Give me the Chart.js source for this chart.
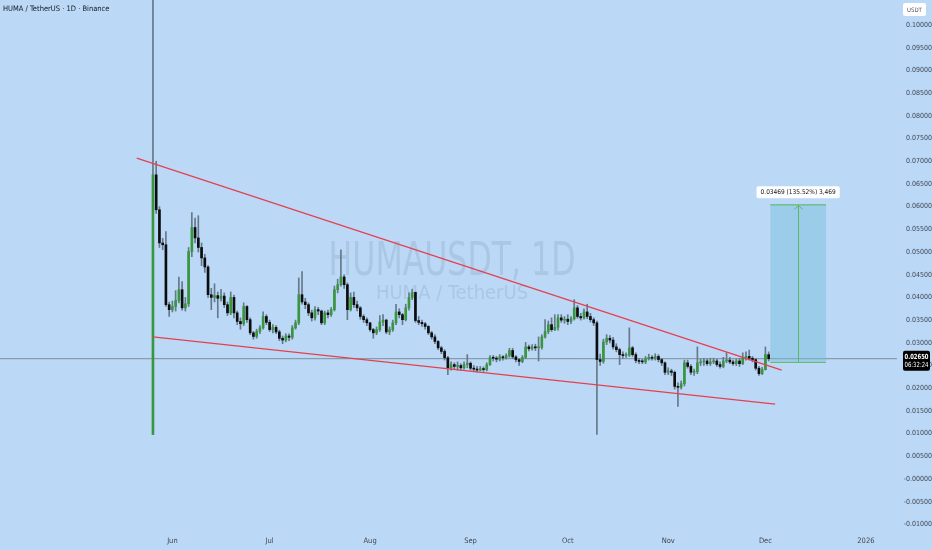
<!DOCTYPE html>
<html>
<head>
<meta charset="utf-8">
<script src="https://cdn.jsdelivr.net/npm/chart.js@4.4.1/dist/chart.umd.min.js"></script>
<style>
  html, body { margin: 0; padding: 0; background: #bbd9f7; }
  #wrap { width: 932px; height: 550px; position: relative; }
</style>
</head>
<body>
<div id="wrap"><canvas id="chart"></canvas></div>
<script>
// HUMA / TetherUS daily candles, day 0 = 26 May
const firstOpen = 0.0098;
const closes = [
  0.0670, 0.0593, 0.0520, 0.0516, 0.0384, 0.0373, 0.0380, 0.0393, 0.0417, 0.0377,
  0.0386, 0.0501, 0.0554, 0.0531, 0.0510, 0.0487, 0.0467, 0.0406, 0.0400, 0.0404,
  0.0398, 0.0403, 0.0384, 0.0366, 0.0400, 0.0366, 0.0347, 0.0342, 0.0380, 0.0351,
  0.0322, 0.0314, 0.0325, 0.0333, 0.0358, 0.0345, 0.0329, 0.0334, 0.0324, 0.0310,
  0.0306, 0.0315, 0.0312, 0.0333, 0.0344, 0.0406, 0.0390, 0.0384, 0.0366, 0.0355,
  0.0373, 0.0370, 0.0344, 0.0366, 0.0362, 0.0373, 0.0417, 0.0428, 0.0445, 0.0428,
  0.0373, 0.0400, 0.0384, 0.0377, 0.0358, 0.0351, 0.0344, 0.0329, 0.0322, 0.0329,
  0.0346, 0.0350, 0.0324, 0.0329, 0.0344, 0.0368, 0.0362, 0.0351, 0.0377, 0.0400,
  0.0411, 0.0349, 0.0345, 0.0342, 0.0336, 0.0322, 0.0313, 0.0303, 0.0289, 0.0281,
  0.0267, 0.0245, 0.0252, 0.0248, 0.0250, 0.0245, 0.0252, 0.0255, 0.0244, 0.0242,
  0.0240, 0.0243, 0.0241, 0.0252, 0.0267, 0.0266, 0.0264, 0.0269, 0.0267, 0.0272,
  0.0283, 0.0269, 0.0263, 0.0259, 0.0268, 0.0291, 0.0287, 0.0291, 0.0289, 0.0290,
  0.0313, 0.0325, 0.0340, 0.0329, 0.0334, 0.0355, 0.0350, 0.0352, 0.0347, 0.0353,
  0.0377, 0.0358, 0.0355, 0.0368, 0.0358, 0.0351, 0.0344, 0.0263, 0.0259, 0.0302,
  0.0310, 0.0306, 0.0291, 0.0285, 0.0274, 0.0272, 0.0273, 0.0289, 0.0274, 0.0261,
  0.0259, 0.0258, 0.0265, 0.0268, 0.0266, 0.0270, 0.0263, 0.0256, 0.0235, 0.0238,
  0.0235, 0.0204, 0.0202, 0.0210, 0.0256, 0.0248, 0.0235, 0.0236, 0.0256, 0.0258,
  0.0260, 0.0254, 0.0258, 0.0260, 0.0252, 0.0248, 0.0260, 0.0262, 0.0258, 0.0254,
  0.0260, 0.0254, 0.0267, 0.0270, 0.0266, 0.0263, 0.0244, 0.0232, 0.0241, 0.0274,
  0.0265
];
const highs = [
  0.1200, 0.0700, 0.0600, 0.0530, 0.0545, 0.0390, 0.0392, 0.0415, 0.0445, 0.0435,
  0.0400, 0.0510, 0.0587, 0.0575, 0.0580, 0.0520, 0.0495, 0.0470, 0.0420, 0.0430,
  0.0412, 0.0418, 0.0410, 0.0390, 0.0412, 0.0405, 0.0370, 0.0355, 0.0388, 0.0382,
  0.0355, 0.0325, 0.0330, 0.0338, 0.0368, 0.0362, 0.0350, 0.0340, 0.0338, 0.0328,
  0.0315, 0.0320, 0.0320, 0.0338, 0.0350, 0.0443, 0.0457, 0.0398, 0.0388, 0.0372,
  0.0380, 0.0378, 0.0372, 0.0370, 0.0372, 0.0378, 0.0425, 0.0440, 0.0505, 0.0450,
  0.0432, 0.0410, 0.0412, 0.0392, 0.0380, 0.0362, 0.0355, 0.0345, 0.0332, 0.0335,
  0.0360, 0.0362, 0.0352, 0.0335, 0.0350, 0.0385, 0.0375, 0.0365, 0.0385, 0.0410,
  0.0418, 0.0412, 0.0358, 0.0350, 0.0345, 0.0338, 0.0325, 0.0318, 0.0305, 0.0292,
  0.0285, 0.0270, 0.0258, 0.0256, 0.0258, 0.0254, 0.0258, 0.0274, 0.0258, 0.0250,
  0.0248, 0.0248, 0.0247, 0.0256, 0.0272, 0.0272, 0.0270, 0.0274, 0.0272, 0.0276,
  0.0288, 0.0288, 0.0272, 0.0266, 0.0272, 0.0301, 0.0295, 0.0296, 0.0297, 0.0313,
  0.0318, 0.0351, 0.0348, 0.0355, 0.0362, 0.0362, 0.0362, 0.0358, 0.0362, 0.0358,
  0.0395, 0.0382, 0.0365, 0.0375, 0.0385, 0.0365, 0.0355, 0.0348, 0.0275, 0.0308,
  0.0318, 0.0316, 0.0312, 0.0298, 0.0288, 0.0280, 0.0278, 0.0333, 0.0292, 0.0278,
  0.0266, 0.0264, 0.0270, 0.0275, 0.0272, 0.0276, 0.0274, 0.0266, 0.0258, 0.0245,
  0.0242, 0.0238, 0.0212, 0.0216, 0.0262, 0.0262, 0.0252, 0.0242, 0.0291, 0.0264,
  0.0266, 0.0264, 0.0266, 0.0266, 0.0264, 0.0258, 0.0268, 0.0278, 0.0268, 0.0262,
  0.0264, 0.0266, 0.0278, 0.0280, 0.0284, 0.0270, 0.0266, 0.0248, 0.0246, 0.0291,
  0.0280
];
const lows = [
  0.0098, 0.0585, 0.0510, 0.0505, 0.0380, 0.0358, 0.0368, 0.0370, 0.0388, 0.0372,
  0.0370, 0.0380, 0.0490, 0.0520, 0.0500, 0.0470, 0.0455, 0.0400, 0.0373, 0.0390,
  0.0355, 0.0392, 0.0378, 0.0360, 0.0362, 0.0355, 0.0340, 0.0330, 0.0338, 0.0345,
  0.0318, 0.0308, 0.0310, 0.0320, 0.0330, 0.0340, 0.0325, 0.0322, 0.0320, 0.0305,
  0.0298, 0.0302, 0.0305, 0.0308, 0.0330, 0.0340, 0.0385, 0.0375, 0.0360, 0.0348,
  0.0350, 0.0362, 0.0340, 0.0340, 0.0355, 0.0358, 0.0370, 0.0410, 0.0425, 0.0420,
  0.0351, 0.0370, 0.0378, 0.0370, 0.0352, 0.0345, 0.0338, 0.0325, 0.0310, 0.0318,
  0.0325, 0.0338, 0.0320, 0.0318, 0.0325, 0.0340, 0.0355, 0.0340, 0.0348, 0.0372,
  0.0395, 0.0345, 0.0340, 0.0336, 0.0330, 0.0318, 0.0308, 0.0298, 0.0285, 0.0276,
  0.0262, 0.0230, 0.0240, 0.0242, 0.0240, 0.0240, 0.0242, 0.0245, 0.0240, 0.0238,
  0.0236, 0.0238, 0.0237, 0.0238, 0.0250, 0.0260, 0.0258, 0.0260, 0.0262, 0.0264,
  0.0268, 0.0265, 0.0258, 0.0250, 0.0256, 0.0265, 0.0282, 0.0284, 0.0283, 0.0260,
  0.0286, 0.0310, 0.0320, 0.0325, 0.0327, 0.0328, 0.0345, 0.0343, 0.0340, 0.0342,
  0.0350, 0.0354, 0.0350, 0.0352, 0.0353, 0.0346, 0.0338, 0.0098, 0.0250, 0.0255,
  0.0296, 0.0300, 0.0286, 0.0280, 0.0252, 0.0266, 0.0268, 0.0270, 0.0270, 0.0256,
  0.0254, 0.0254, 0.0254, 0.0262, 0.0262, 0.0262, 0.0258, 0.0250, 0.0230, 0.0230,
  0.0228, 0.0198, 0.0160, 0.0198, 0.0205, 0.0244, 0.0230, 0.0228, 0.0232, 0.0250,
  0.0250, 0.0250, 0.0250, 0.0254, 0.0248, 0.0244, 0.0245, 0.0256, 0.0254, 0.0250,
  0.0250, 0.0248, 0.0252, 0.0262, 0.0262, 0.0258, 0.0240, 0.0228, 0.0230, 0.0240,
  0.0260
];

// axis labels
const monthDays = [6, 36, 67, 98, 128, 159, 189, 220];
const monthLabels = ['Jun', 'Jul', 'Aug', 'Sep', 'Oct', 'Nov', 'Dec', '2026'];
const priceTicks = [0.10, 0.095, 0.09, 0.085, 0.08, 0.075, 0.07, 0.065, 0.06, 0.055, 0.05, 0.045,
  0.04, 0.035, 0.03, 0.025, 0.02, 0.015, 0.01, 0.005, 0, -0.005, -0.01];
const priceTickLabels = ['0.10000', '0.09500', '0.09000', '0.08500', '0.08000', '0.07500', '0.07000',
  '0.06500', '0.06000', '0.05500', '0.05000', '0.04500', '0.04000', '0.03500', '0.03000', '0.02500',
  '0.02000', '0.01500', '0.01000', '0.00500', '-0.00000', '-0.00500', '-0.01000'];

// drawings (day, price)
const upperTrend = [[-5, 0.0707], [194, 0.0240]];
const lowerTrend = [[0, 0.0313], [192, 0.0165]];
const lastPrice = 0.02650;
const lastTime = '06:32:24';
const targetDays = [190.5, 207.7];
const targetPrices = [0.0258, 0.0605];
const targetText = '0.03469 (135.52%) 3,469';

const GREEN = '#38973c';
const BLACK = '#0d0d0d';
const WICK = '#66788a';
const RED = '#e5404e';
const FONT = "'Liberation Sans Narrow', 'DejaVu Sans Condensed', 'Liberation Sans', sans-serif";

const opens = closes.map((c, i) => i === 0 ? firstOpen : closes[i - 1]);
const wickData = closes.map((c, i) => ({ x: i, y: [lows[i], highs[i]] }));
const bodyData = closes.map((c, i) => ({ x: i, y: [opens[i], closes[i]] }));
const bodyColors = closes.map((c, i) => c >= opens[i] ? GREEN : BLACK);

const noPad = (scale) => {
  scale.paddingTop = 0; scale.paddingBottom = 0;
  scale.paddingLeft = 0; scale.paddingRight = 0;
};

const tvDecor = {
  id: 'tvDecor',
  beforeDraw(chart) {
    const ctx = chart.ctx;
    ctx.save();
    ctx.fillStyle = '#bbd9f7';
    ctx.fillRect(0, 0, chart.width, chart.height);
    ctx.restore();
  },
  beforeDatasetsDraw(chart) {
    const ctx = chart.ctx;
    ctx.save();
    ctx.fillStyle = 'rgba(125,148,172,0.26)';
    ctx.textAlign = 'center';
    ctx.textBaseline = 'alphabetic';
    ctx.font = '47px ' + FONT;
    ctx.fillText('HUMAUSDT, 1D', 452, 275, 247);
    ctx.font = '20px ' + FONT;
    ctx.fillText('HUMA / TetherUS', 452, 299, 179);
    ctx.restore();
  },
  afterDatasetsDraw(chart) {
    const ctx = chart.ctx;
    const xs = chart.scales.x, ys = chart.scales.y;
    ctx.save();

    // target projection box
    const x1 = xs.getPixelForValue(targetDays[0]);
    const x2 = xs.getPixelForValue(targetDays[1]);
    const yb = ys.getPixelForValue(targetPrices[0]);
    const yt = ys.getPixelForValue(targetPrices[1]);
    ctx.fillStyle = 'rgba(118,188,214,0.45)';
    ctx.fillRect(x1, yt, x2 - x1, yb - yt);
    ctx.strokeStyle = '#5cb85c';
    ctx.lineWidth = 1;
    ctx.beginPath();
    ctx.moveTo(x1, yt + 0.5); ctx.lineTo(x2, yt + 0.5);
    ctx.moveTo(x1, yb + 0.5); ctx.lineTo(x2, yb + 0.5);
    const xm = Math.round((x1 + x2) / 2) + 0.5;
    ctx.moveTo(xm, yb); ctx.lineTo(xm, yt + 1);
    ctx.moveTo(xm - 4, yt + 5); ctx.lineTo(xm, yt + 1); ctx.lineTo(xm + 4, yt + 5);
    ctx.stroke();

    // target label
    ctx.font = '6.5px ' + FONT;
    const tw = ctx.measureText(targetText).width + 8;
    const lx = (x1 + x2) / 2 - tw / 2;
    ctx.fillStyle = '#ffffff';
    ctx.beginPath();
    ctx.roundRect(lx, yt - 18, tw, 12, 2);
    ctx.fill();
    ctx.fillStyle = '#131722';
    ctx.textAlign = 'center';
    ctx.textBaseline = 'middle';
    ctx.fillText(targetText, (x1 + x2) / 2, yt - 12);

    // last price tag
    const py = ys.getPixelForValue(lastPrice);
    ctx.fillStyle = '#000000';
    ctx.beginPath();
    ctx.roundRect(903, py - 8, 27, 20, 2);
    ctx.fill();
    ctx.fillStyle = '#ffffff';
    ctx.font = 'bold 7px ' + FONT;
    ctx.fillText(lastPrice.toFixed(5), 916.5, py - 2, 24);
    ctx.font = '7px ' + FONT;
    ctx.fillText(lastTime, 916.5, py + 6.5, 24);

    // header
    ctx.textAlign = 'left';
    ctx.fillStyle = '#131722';
    ctx.font = '7.5px ' + FONT;
    ctx.fillText('HUMA / TetherUS \u00b7 1D \u00b7 Binance', 3, 9.5);

    // currency box
    ctx.fillStyle = '#ffffff';
    ctx.beginPath();
    ctx.roundRect(903, 3, 23, 13, 2);
    ctx.fill();
    ctx.fillStyle = '#50535e';
    ctx.textAlign = 'center';
    ctx.font = '6px ' + FONT;
    ctx.fillText('USDT', 914.5, 10);
    ctx.restore();
  }
};

Chart.defaults.font.family = FONT;

new Chart(document.getElementById('chart'), {
  type: 'bar',
  data: {
    datasets: [
      {
        type: 'line',
        data: [{ x: -60, y: lastPrice }, { x: 240, y: lastPrice }],
        borderColor: '#7f8c99',
        borderWidth: 1,
        pointRadius: 0,
        order: 5
      },
      {
        data: wickData,
        backgroundColor: WICK,
        barThickness: 1,
        grouped: false,
        order: 4
      },
      {
        data: bodyData,
        backgroundColor: bodyColors,
        barThickness: 2,
        minBarLength: 1,
        grouped: false,
        order: 3
      },
      {
        type: 'line',
        data: upperTrend.map(p => ({ x: p[0], y: p[1] })),
        borderColor: RED,
        borderWidth: 1.3,
        pointRadius: 0,
        order: 1
      },
      {
        type: 'line',
        data: lowerTrend.map(p => ({ x: p[0], y: p[1] })),
        borderColor: RED,
        borderWidth: 1.3,
        pointRadius: 0,
        order: 1
      }
    ]
  },
  options: {
    responsive: true,
    maintainAspectRatio: false,
    animation: false,
    layout: { padding: 0 },
    plugins: { legend: { display: false }, tooltip: { enabled: false } },
    scales: {
      x: {
        type: 'linear',
        min: -47.2,
        max: 229.6,
        offset: false,
        grid: { display: false, drawTicks: false },
        border: { display: false },
        afterBuildTicks: (scale) => { scale.ticks = monthDays.map(v => ({ value: v })); },
        afterFit: (scale) => { scale.height = 20; noPad(scale); },
        ticks: {
          autoSkip: false,
          maxRotation: 0,
          padding: 7,
          color: '#434651',
          font: { size: 7.5 },
          callback: (v) => monthLabels[monthDays.indexOf(v)]
        }
      },
      y: {
        position: 'right',
        min: -0.01123,
        max: 0.10551,
        grid: { display: false, drawTicks: false },
        border: { display: false },
        afterBuildTicks: (scale) => { scale.ticks = priceTicks.map(v => ({ value: v })); },
        afterFit: (scale) => { scale.width = 35; noPad(scale); },
        ticks: {
          autoSkip: false,
          padding: 5,
          crossAlign: 'far',
          color: '#434651',
          font: { size: 7 },
          callback: (v) => priceTickLabels[priceTicks.indexOf(v)]
        }
      }
    }
  },
  plugins: [tvDecor]
});
</script>
</body>
</html>
